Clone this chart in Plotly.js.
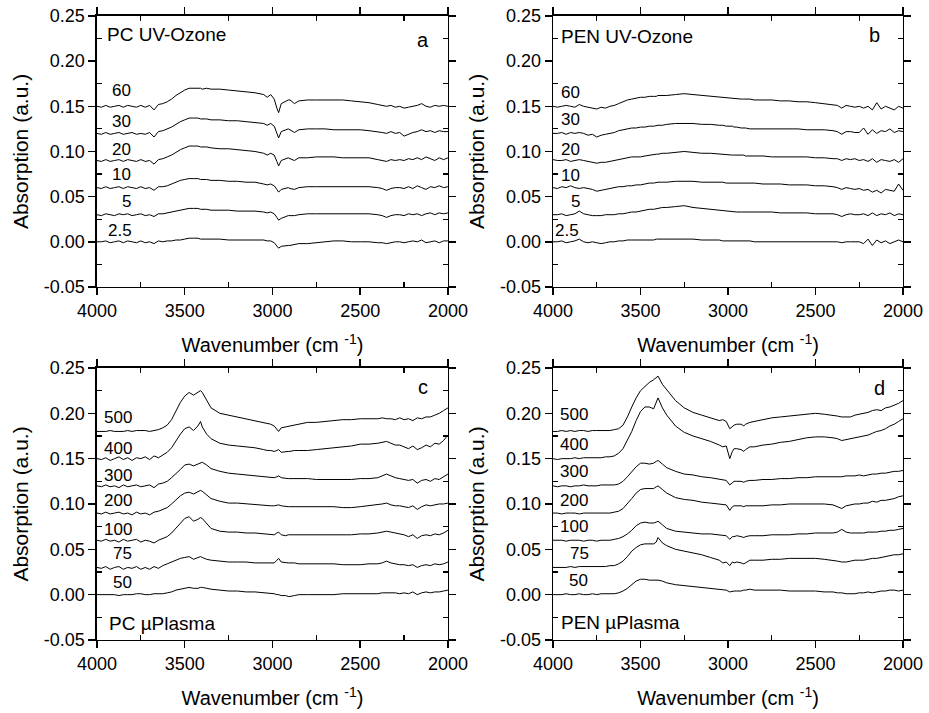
<!DOCTYPE html>
<html>
<head>
<meta charset="utf-8">
<script src="https://cdn.plot.ly/plotly-3.0.1.min.js"></script>
<style>html,body{margin:0;padding:0;background:#fff;}#chart{width:929px;height:713px;}</style>
</head>
<body>
<div id="chart"></div>
<script>
// ---------- DATA ----------
const wavenumber = [4000,3975,3950,3925,3900,3875,3850,3825,3800,3775,3750,3725,3700,3675,3650,3625,3600,3575,3550,3525,3500,3475,3450,3425,3410,3400,3375,3350,3300,3250,3200,3150,3100,3050,3030,3010,2990,2975,2965,2950,2925,2910,2900,2875,2850,2800,2750,2700,2650,2600,2550,2500,2450,2400,2375,2350,2325,2300,2275,2250,2225,2200,2175,2150,2125,2100,2075,2050,2025,2000];

const uvLabels = ['2.5','5','10','20','30','60'];
const plasmaLabels = ['50','75','100','200','300','400','500'];

// (a) PC UV-Ozone
const pcUV_2_5 = [0.000,0.000,0.001,-0.001,0.000,0.001,-0.001,0.001,0.000,-0.001, 0.001,-0.001,0.000,-0.002,0.001,0.000,0.001,0.001,0.002,0.002, 0.003,0.004,0.004,0.004,0.003,0.003,0.003,0.003,0.003,0.002, 0.002,0.002,0.002,0.002,0.001,0.001,-0.001,-0.005,-0.007,-0.005, -0.004,-0.004,-0.004,-0.003,-0.002,-0.002,-0.001,0.000,0.001,0.001, 0.000,0.000,0.000,-0.001,-0.001,-0.002,-0.001,0.000,0.000,-0.001, 0.000,0.001,0.000,0.002,-0.001,0.000,0.001,-0.001,0.001,0.001];
const pcUV_5 = [0.030,0.029,0.031,0.030,0.029,0.031,0.030,0.031,0.029,0.030, 0.031,0.029,0.030,0.028,0.031,0.031,0.032,0.033,0.034,0.035, 0.036,0.037,0.037,0.037,0.036,0.036,0.036,0.035,0.035,0.035, 0.034,0.034,0.034,0.033,0.032,0.033,0.031,0.027,0.024,0.026, 0.028,0.029,0.029,0.029,0.030,0.031,0.031,0.031,0.031,0.031, 0.031,0.031,0.031,0.030,0.029,0.027,0.029,0.030,0.030,0.029, 0.031,0.030,0.031,0.029,0.031,0.032,0.030,0.032,0.031,0.032];
const pcUV_10 = [0.060,0.059,0.061,0.059,0.060,0.061,0.059,0.061,0.060,0.059, 0.061,0.059,0.060,0.057,0.061,0.061,0.062,0.064,0.066,0.068, 0.069,0.070,0.070,0.070,0.069,0.069,0.069,0.068,0.068,0.067, 0.067,0.066,0.066,0.064,0.063,0.064,0.062,0.058,0.055,0.058, 0.059,0.060,0.059,0.058,0.060,0.061,0.061,0.061,0.061,0.061, 0.061,0.061,0.061,0.060,0.059,0.057,0.059,0.060,0.060,0.059, 0.061,0.059,0.062,0.060,0.058,0.061,0.060,0.062,0.060,0.061];
const pcUV_20 = [0.090,0.089,0.091,0.089,0.090,0.091,0.089,0.091,0.090,0.089, 0.091,0.089,0.090,0.086,0.091,0.092,0.094,0.096,0.099,0.102, 0.104,0.106,0.106,0.106,0.105,0.105,0.105,0.104,0.103,0.103, 0.102,0.101,0.100,0.098,0.096,0.098,0.096,0.089,0.084,0.090, 0.092,0.093,0.092,0.090,0.093,0.093,0.094,0.094,0.094,0.093, 0.093,0.093,0.093,0.091,0.090,0.089,0.091,0.090,0.091,0.090, 0.092,0.091,0.093,0.091,0.094,0.092,0.090,0.093,0.091,0.093];
const pcUV_30 = [0.120,0.119,0.121,0.119,0.120,0.121,0.119,0.120,0.121,0.119, 0.120,0.119,0.121,0.116,0.122,0.123,0.125,0.127,0.130,0.133, 0.135,0.137,0.137,0.137,0.136,0.136,0.136,0.135,0.135,0.134, 0.134,0.133,0.132,0.131,0.129,0.131,0.128,0.120,0.115,0.122, 0.124,0.125,0.124,0.121,0.124,0.125,0.125,0.125,0.124,0.124, 0.124,0.124,0.123,0.122,0.121,0.120,0.122,0.120,0.121,0.117, 0.119,0.121,0.122,0.124,0.122,0.123,0.121,0.123,0.122,0.122];
const pcUV_60 = [0.150,0.149,0.151,0.149,0.150,0.151,0.149,0.151,0.150,0.149, 0.151,0.149,0.151,0.146,0.152,0.153,0.155,0.158,0.162,0.165, 0.168,0.170,0.170,0.170,0.170,0.169,0.170,0.169,0.169,0.168, 0.167,0.166,0.165,0.163,0.160,0.163,0.158,0.148,0.143,0.153, 0.156,0.157,0.157,0.153,0.156,0.157,0.157,0.157,0.157,0.157, 0.156,0.155,0.154,0.152,0.151,0.150,0.151,0.149,0.150,0.148, 0.149,0.150,0.151,0.153,0.150,0.149,0.151,0.150,0.151,0.150];

// (b) PEN UV-Ozone
const penUV_2_5 = [0.000,0.000,0.001,-0.001,0.000,0.001,0.003,0.000,-0.001,0.000, -0.001,-0.002,-0.001,0.000,0.000,0.001,0.001,0.002,0.002,0.002, 0.002,0.002,0.002,0.002,0.003,0.003,0.003,0.003,0.003,0.003, 0.003,0.002,0.002,0.002,0.001,0.001,0.001,0.001,0.001,0.001, 0.001,0.001,0.001,0.001,0.000,0.000,0.000,0.000,0.000,0.000, 0.000,0.000,0.000,0.000,0.000,-0.001,0.000,0.000,0.000,0.000, -0.002,0.003,-0.004,0.002,-0.001,0.001,-0.002,0.000,0.002,0.000];
const penUV_5 = [0.030,0.030,0.031,0.029,0.030,0.031,0.034,0.031,0.030,0.029, 0.029,0.029,0.030,0.030,0.030,0.031,0.031,0.032,0.033,0.033, 0.034,0.035,0.036,0.036,0.037,0.037,0.038,0.038,0.039,0.040, 0.038,0.037,0.036,0.035,0.034,0.034,0.033,0.033,0.033,0.033, 0.033,0.033,0.033,0.033,0.033,0.033,0.033,0.032,0.032,0.032, 0.032,0.031,0.031,0.031,0.030,0.028,0.030,0.031,0.030,0.030, 0.031,0.029,0.032,0.029,0.031,0.030,0.032,0.029,0.031,0.030];
const penUV_10 = [0.060,0.059,0.061,0.060,0.062,0.060,0.059,0.060,0.059,0.058, 0.056,0.057,0.058,0.059,0.060,0.061,0.061,0.062,0.062,0.063, 0.063,0.064,0.065,0.065,0.066,0.066,0.066,0.066,0.067,0.067, 0.067,0.066,0.066,0.066,0.066,0.065,0.065,0.065,0.065,0.065, 0.065,0.065,0.065,0.065,0.065,0.064,0.064,0.064,0.063,0.063, 0.063,0.062,0.062,0.061,0.060,0.058,0.060,0.059,0.058,0.059, 0.057,0.058,0.055,0.057,0.054,0.058,0.057,0.056,0.064,0.057];
const penUV_20 = [0.091,0.090,0.090,0.091,0.089,0.090,0.091,0.090,0.089,0.088, 0.087,0.088,0.088,0.089,0.090,0.091,0.092,0.093,0.094,0.094, 0.094,0.095,0.096,0.097,0.097,0.097,0.098,0.098,0.099,0.100, 0.099,0.098,0.098,0.097,0.097,0.096,0.096,0.096,0.096,0.096, 0.096,0.096,0.095,0.095,0.095,0.095,0.094,0.094,0.094,0.094, 0.094,0.093,0.093,0.092,0.092,0.090,0.092,0.091,0.092,0.090, 0.091,0.089,0.092,0.088,0.091,0.090,0.089,0.091,0.088,0.092];
const penUV_30 = [0.120,0.120,0.121,0.119,0.121,0.120,0.121,0.120,0.118,0.119, 0.116,0.118,0.119,0.120,0.121,0.123,0.124,0.125,0.126,0.126, 0.127,0.127,0.128,0.128,0.129,0.129,0.129,0.130,0.131,0.131, 0.131,0.130,0.130,0.129,0.129,0.128,0.128,0.128,0.127,0.127, 0.126,0.126,0.126,0.125,0.125,0.125,0.125,0.125,0.125,0.125, 0.124,0.124,0.124,0.123,0.122,0.119,0.122,0.122,0.121,0.121, 0.126,0.119,0.124,0.120,0.123,0.122,0.125,0.121,0.123,0.122];
const penUV_60 = [0.150,0.149,0.150,0.151,0.150,0.149,0.152,0.150,0.149,0.148, 0.147,0.149,0.148,0.150,0.151,0.153,0.155,0.157,0.158,0.159, 0.160,0.160,0.161,0.161,0.161,0.162,0.162,0.162,0.163,0.164, 0.163,0.162,0.161,0.160,0.160,0.159,0.159,0.159,0.158,0.158, 0.158,0.158,0.158,0.158,0.157,0.157,0.157,0.156,0.156,0.155, 0.155,0.154,0.153,0.152,0.151,0.148,0.151,0.150,0.149,0.150, 0.148,0.150,0.146,0.154,0.147,0.150,0.148,0.146,0.150,0.148];

// (c) PC µPlasma
const pcPl_50 = [0.000,0.000,0.000,0.000,0.000,-0.001,0.000,0.000,0.000,0.001, 0.001,0.000,0.000,0.001,0.001,0.001,0.002,0.003,0.005,0.006, 0.007,0.008,0.007,0.007,0.008,0.008,0.007,0.006,0.005,0.004, 0.004,0.003,0.003,0.002,0.002,0.001,0.001,0.000,0.000,-0.001, -0.001,-0.002,-0.002,-0.001,0.000,0.000,0.000,0.000,0.000,0.001, 0.001,0.001,0.001,0.001,0.002,0.002,0.002,0.002,0.001,0.002, 0.001,0.003,0.000,0.002,0.003,0.002,0.003,0.003,0.004,0.005];
const pcPl_75 = [0.030,0.029,0.031,0.028,0.030,0.031,0.028,0.030,0.029,0.031, 0.028,0.030,0.028,0.031,0.029,0.032,0.034,0.036,0.038,0.040, 0.041,0.042,0.039,0.041,0.042,0.041,0.039,0.038,0.037,0.036, 0.036,0.036,0.035,0.035,0.035,0.035,0.035,0.038,0.040,0.036, 0.035,0.035,0.035,0.035,0.034,0.034,0.034,0.034,0.034,0.033, 0.033,0.033,0.034,0.034,0.035,0.037,0.035,0.034,0.033,0.033, 0.032,0.033,0.030,0.032,0.033,0.032,0.034,0.033,0.034,0.036];
const pcPl_100 = [0.060,0.059,0.061,0.059,0.060,0.058,0.061,0.059,0.060,0.061, 0.058,0.060,0.059,0.057,0.060,0.062,0.064,0.068,0.073,0.079, 0.084,0.086,0.081,0.083,0.085,0.084,0.078,0.073,0.070,0.069, 0.069,0.068,0.068,0.067,0.067,0.066,0.066,0.068,0.069,0.066, 0.065,0.066,0.066,0.066,0.066,0.066,0.066,0.066,0.066,0.066, 0.066,0.067,0.067,0.068,0.069,0.070,0.069,0.068,0.067,0.066, 0.064,0.066,0.062,0.065,0.066,0.065,0.067,0.066,0.068,0.071];
const pcPl_200 = [0.090,0.089,0.091,0.089,0.090,0.091,0.089,0.090,0.088,0.091, 0.089,0.090,0.088,0.091,0.092,0.094,0.096,0.100,0.105,0.109, 0.112,0.113,0.111,0.113,0.115,0.114,0.110,0.106,0.103,0.101, 0.101,0.100,0.099,0.098,0.098,0.098,0.098,0.099,0.099,0.098, 0.097,0.097,0.097,0.097,0.097,0.097,0.097,0.097,0.097,0.096, 0.096,0.097,0.098,0.099,0.100,0.101,0.099,0.098,0.098,0.097, 0.096,0.098,0.094,0.097,0.099,0.098,0.099,0.100,0.100,0.101];
const pcPl_300 = [0.120,0.119,0.121,0.119,0.120,0.118,0.121,0.119,0.120,0.121, 0.119,0.120,0.121,0.118,0.122,0.123,0.125,0.129,0.133,0.138, 0.143,0.144,0.142,0.144,0.146,0.146,0.143,0.139,0.136,0.134, 0.133,0.132,0.131,0.130,0.129,0.129,0.129,0.130,0.131,0.129, 0.128,0.128,0.128,0.128,0.128,0.128,0.127,0.127,0.127,0.127, 0.127,0.128,0.128,0.129,0.131,0.133,0.131,0.129,0.128,0.127, 0.126,0.127,0.123,0.126,0.127,0.125,0.128,0.127,0.130,0.133];
const pcPl_400 = [0.150,0.149,0.151,0.148,0.150,0.152,0.149,0.151,0.148,0.151, 0.150,0.152,0.149,0.153,0.151,0.154,0.157,0.162,0.170,0.177, 0.183,0.185,0.181,0.186,0.191,0.185,0.177,0.172,0.167,0.165, 0.164,0.163,0.162,0.160,0.159,0.159,0.158,0.159,0.160,0.157, 0.158,0.158,0.158,0.159,0.159,0.159,0.160,0.161,0.162,0.163, 0.164,0.166,0.166,0.167,0.168,0.169,0.167,0.165,0.165,0.163, 0.161,0.164,0.160,0.162,0.165,0.163,0.167,0.166,0.170,0.176];
const pcPl_500 = [0.180,0.180,0.180,0.181,0.180,0.180,0.180,0.181,0.180,0.181, 0.181,0.181,0.180,0.181,0.182,0.184,0.187,0.193,0.203,0.212, 0.219,0.223,0.220,0.223,0.225,0.223,0.214,0.206,0.200,0.198, 0.196,0.194,0.192,0.190,0.189,0.188,0.186,0.182,0.180,0.184, 0.185,0.186,0.186,0.187,0.188,0.190,0.190,0.191,0.192,0.193, 0.193,0.194,0.194,0.194,0.195,0.194,0.194,0.193,0.195,0.193, 0.194,0.192,0.195,0.194,0.196,0.196,0.198,0.200,0.203,0.206];

// (d) PEN µPlasma
const penPl_50 = [0.000,0.000,0.000,0.001,0.000,0.000,0.001,0.000,0.000,0.001, 0.000,0.001,0.001,0.001,0.001,0.002,0.004,0.007,0.011,0.015, 0.017,0.017,0.016,0.016,0.016,0.016,0.015,0.013,0.011,0.010, 0.009,0.008,0.007,0.006,0.005,0.005,0.003,0.004,0.004,0.004, 0.004,0.005,0.005,0.006,0.005,0.005,0.005,0.005,0.004,0.004, 0.004,0.004,0.003,0.003,0.002,0.002,0.001,0.001,0.001,0.002, 0.002,0.003,0.002,0.003,0.004,0.004,0.005,0.005,0.004,0.005];
const penPl_75 = [0.030,0.030,0.030,0.030,0.031,0.030,0.031,0.031,0.031,0.031, 0.031,0.031,0.031,0.032,0.032,0.034,0.037,0.042,0.048,0.052, 0.055,0.056,0.056,0.056,0.058,0.063,0.057,0.054,0.050,0.048, 0.046,0.044,0.041,0.038,0.035,0.036,0.032,0.036,0.035,0.036, 0.035,0.034,0.035,0.038,0.038,0.038,0.039,0.039,0.040,0.040, 0.040,0.040,0.039,0.038,0.037,0.036,0.036,0.037,0.038,0.038, 0.038,0.039,0.040,0.040,0.041,0.042,0.043,0.044,0.044,0.045];
const penPl_100 = [0.060,0.060,0.060,0.059,0.060,0.060,0.060,0.059,0.060,0.060, 0.059,0.060,0.060,0.060,0.061,0.062,0.064,0.067,0.071,0.076, 0.079,0.080,0.079,0.079,0.080,0.081,0.077,0.073,0.070,0.069, 0.068,0.067,0.067,0.066,0.066,0.065,0.061,0.064,0.064,0.065, 0.064,0.063,0.064,0.065,0.065,0.065,0.066,0.066,0.066,0.067, 0.067,0.068,0.068,0.068,0.069,0.072,0.069,0.068,0.068,0.068, 0.068,0.069,0.069,0.069,0.070,0.070,0.071,0.071,0.072,0.073];
const penPl_200 = [0.090,0.090,0.089,0.090,0.090,0.090,0.089,0.090,0.090,0.090, 0.090,0.090,0.090,0.090,0.091,0.092,0.095,0.100,0.106,0.112, 0.116,0.117,0.117,0.117,0.119,0.120,0.116,0.112,0.107,0.105, 0.104,0.102,0.101,0.100,0.099,0.099,0.093,0.097,0.098,0.098, 0.098,0.097,0.098,0.098,0.098,0.098,0.099,0.099,0.100,0.100, 0.100,0.100,0.100,0.099,0.097,0.095,0.098,0.099,0.100,0.100, 0.101,0.101,0.103,0.102,0.104,0.104,0.105,0.106,0.108,0.109];
const penPl_300 = [0.120,0.119,0.120,0.120,0.119,0.120,0.120,0.121,0.120,0.120, 0.120,0.121,0.121,0.121,0.121,0.122,0.125,0.130,0.136,0.141, 0.145,0.145,0.144,0.145,0.147,0.148,0.144,0.140,0.136,0.133, 0.132,0.130,0.129,0.127,0.126,0.126,0.121,0.124,0.125,0.125, 0.125,0.124,0.125,0.126,0.126,0.127,0.127,0.128,0.128,0.129, 0.129,0.130,0.130,0.130,0.130,0.130,0.131,0.131,0.131,0.132, 0.131,0.132,0.133,0.133,0.134,0.134,0.135,0.136,0.136,0.137];
const penPl_400 = [0.150,0.149,0.150,0.150,0.150,0.151,0.150,0.151,0.151,0.151, 0.151,0.151,0.152,0.152,0.153,0.156,0.161,0.170,0.180,0.192, 0.202,0.207,0.207,0.205,0.212,0.217,0.206,0.198,0.186,0.179, 0.175,0.172,0.169,0.165,0.163,0.164,0.150,0.158,0.161,0.161, 0.160,0.158,0.160,0.163,0.163,0.165,0.166,0.168,0.169,0.171, 0.173,0.174,0.174,0.173,0.172,0.170,0.171,0.172,0.173,0.174, 0.175,0.176,0.178,0.180,0.181,0.183,0.186,0.188,0.191,0.194];
const penPl_500 = [0.180,0.180,0.181,0.180,0.181,0.180,0.181,0.181,0.180,0.181, 0.181,0.181,0.181,0.181,0.182,0.183,0.187,0.196,0.207,0.217, 0.225,0.230,0.234,0.237,0.239,0.241,0.232,0.226,0.214,0.206, 0.201,0.198,0.195,0.192,0.193,0.191,0.183,0.186,0.187,0.188, 0.188,0.186,0.188,0.190,0.191,0.193,0.195,0.196,0.197,0.198, 0.199,0.200,0.199,0.198,0.197,0.196,0.196,0.196,0.198,0.199, 0.200,0.201,0.203,0.204,0.203,0.206,0.207,0.209,0.211,0.214];

// axis ticks
const xTickVals = [4000,3500,3000,2500,2000];
const xTickText = ['4000','3500','3000','2500','2000'];
const xMinorVals = [3750,3250,2750,2250];
const yTickVals = [-0.05,0,0.05,0.10,0.15,0.20,0.25];
const yTickText = ['-0.05','0.00','0.05','0.10','0.15','0.20','0.25'];
const yMinorVals = [-0.025,0.025,0.075,0.125,0.175,0.225];

const panelNames = ['PC UV-Ozone','PEN UV-Ozone','PC µPlasma','PEN µPlasma'];
const panelLetters = ['a','b','c','d'];

// ---------- LAYOUT CONFIG ----------
const FONT = 'Arial, "Liberation Sans", sans-serif';
const panels = [
  {xa:'x', ya:'y', labels:uvLabels, series:[pcUV_2_5,pcUV_5,pcUV_10,pcUV_20,pcUV_30,pcUV_60],
   labelPos:[[3870,0.013],[3829,0.0444],[3858,0.074],[3858,0.1024],[3858,0.133],[3858,0.1677]],
   namePos:[3954,0.229], letterPos:[2143,0.2234]},
  {xa:'x2', ya:'y2', labels:uvLabels, series:[penUV_2_5,penUV_5,penUV_10,penUV_20,penUV_30,penUV_60],
   labelPos:[[3918,0.013],[3874,0.0444],[3901,0.0732],[3901,0.1024],[3901,0.135],[3901,0.165]],
   namePos:[3966,0.2268], letterPos:[2160,0.229]},
  {xa:'x3', ya:'y3', labels:plasmaLabels, series:[pcPl_50,pcPl_75,pcPl_100,pcPl_200,pcPl_300,pcPl_400,pcPl_500],
   labelPos:[[3854,0.0132],[3854,0.0449],[3879,0.072],[3879,0.1036],[3879,0.1309],[3879,0.1614],[3879,0.1956]],
   namePos:[3943,-0.032], letterPos:[2143,0.2294]},
  {xa:'x4', ya:'y4', labels:plasmaLabels, series:[penPl_50,penPl_75,penPl_100,penPl_200,penPl_300,penPl_400,penPl_500],
   labelPos:[[3855,0.0154],[3850,0.0449],[3880,0.075],[3880,0.1033],[3880,0.1357],[3880,0.1658],[3880,0.1982]],
   namePos:[3966,-0.031], letterPos:[2137,0.2283]}
];

const traces = [];
const annotations = [];
panels.forEach((p, pi) => {
  p.series.forEach((s, si) => {
    traces.push({x: wavenumber, y: s, xaxis: p.xa, yaxis: p.ya, type: 'scatter', mode: 'lines',
      line: {color: 'black', width: 1}, name: p.labels[si], hoverinfo: 'skip'});
    annotations.push({xref: p.xa, yref: p.ya, x: p.labelPos[si][0], y: p.labelPos[si][1],
      text: p.labels[si], showarrow: false, xanchor: 'center', yanchor: 'middle',
      font: {family: FONT, size: 17, color: 'black'}});
  });
  annotations.push({xref: p.xa, yref: p.ya, x: p.namePos[0], y: p.namePos[1], text: panelNames[pi],
    showarrow: false, xanchor: 'left', yanchor: 'middle', font: {family: FONT, size: 19, color: 'black'}});
  annotations.push({xref: p.xa, yref: p.ya, x: p.letterPos[0], y: p.letterPos[1], text: panelLetters[pi],
    showarrow: false, xanchor: 'center', yanchor: 'middle', font: {family: FONT, size: 20, color: 'black'}});
});

const xDomLeft = [0.1044, 0.4822], xDomRight = [0.5953, 0.9720];
const yDomTop = [0.5975, 0.9776], yDomBot = [0.1024, 0.4839];

function xAxis(domain, anchor) {
  return {domain, anchor, range: [4000, 2000], tickmode: 'array', tickvals: xTickVals, ticktext: xTickText,
    ticks: 'outside', ticklen: 7, tickwidth: 1.5, tickcolor: 'black',
    minor: {tickmode: 'array', tickvals: xMinorVals, ticks: 'inside', ticklen: 5, tickwidth: 1.2, tickcolor: 'black', showgrid: false},
    showline: true, linewidth: 1.5, linecolor: 'black', mirror: 'allticks', showgrid: false, zeroline: false,
    tickfont: {family: FONT, size: 18, color: 'black'},
    title: {text: 'Wavenumber (cm <sup>-1</sup>)', font: {family: FONT, size: 20, color: 'black'}, standoff: 18}};
}
function yAxis(domain, anchor) {
  return {domain, anchor, range: [-0.05, 0.25], tickmode: 'array', tickvals: yTickVals, ticktext: yTickText,
    ticks: 'outside', ticklen: 7, tickwidth: 1.5, tickcolor: 'black',
    minor: {tickmode: 'array', tickvals: yMinorVals, ticks: 'inside', ticklen: 5, tickwidth: 1.2, tickcolor: 'black', showgrid: false},
    showline: true, linewidth: 1.5, linecolor: 'black', mirror: 'allticks', showgrid: false, zeroline: false,
    tickfont: {family: FONT, size: 18, color: 'black'},
    title: {text: 'Absorption (a.u.)', font: {family: FONT, size: 21, color: 'black'}, standoff: 9}};
}

const layout = {
  width: 929, height: 713, margin: {l: 0, r: 0, t: 0, b: 0},
  paper_bgcolor: 'white', plot_bgcolor: 'white', showlegend: false,
  font: {family: FONT, color: 'black'},
  xaxis: xAxis(xDomLeft, 'y'), yaxis: yAxis(yDomTop, 'x'),
  xaxis2: xAxis(xDomRight, 'y2'), yaxis2: yAxis(yDomTop, 'x2'),
  xaxis3: xAxis(xDomLeft, 'y3'), yaxis3: yAxis(yDomBot, 'x3'),
  xaxis4: xAxis(xDomRight, 'y4'), yaxis4: yAxis(yDomBot, 'x4'),
  annotations
};

Plotly.newPlot('chart', traces, layout, {displayModeBar: false, staticPlot: true});
</script>
</body>
</html>
